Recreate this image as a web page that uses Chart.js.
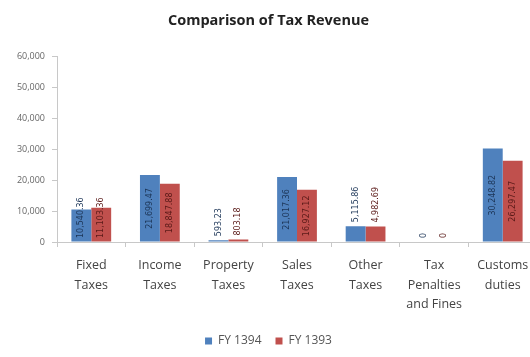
<!DOCTYPE html>
<html>
<head>
<meta charset="utf-8">
<script src="https://cdn.jsdelivr.net/npm/chart.js@4/dist/chart.umd.min.js"></script>
<style>
  html, body { margin: 0; padding: 0; background: #fff; overflow: hidden; }
  #wrap { width: 546px; height: 357px; }
</style>
</head>
<body>
<div id="wrap"><canvas id="tax-chart" width="546" height="357"></canvas></div>
<script>
// chart data
var categories = [
    ['Fixed', 'Taxes'],
    ['Income', 'Taxes'],
    ['Property', 'Taxes'],
    ['Sales', 'Taxes'],
    ['Other', 'Taxes'],
    ['Tax', 'Penalties', 'and Fines'],
    ['Customs', 'duties']
];
var seriesNames = ['FY 1394', 'FY 1393'];
var fy1394 = [10540.36, 21699.47, 593.23, 21017.36, 5115.86, 0, 30248.82];
var fy1393 = [11103.36, 18847.88, 803.18, 16927.12, 4982.69, 0, 26297.47];
var yTicks = [0, 10000, 20000, 30000, 40000, 50000, 60000];

function fmt(v) {
    if (v === 0) return '0';
    return v.toLocaleString('en-US', { minimumFractionDigits: 2, maximumFractionDigits: 2 });
}

// draws the rotated value labels on the bars
var barLabels = {
    id: 'barLabels',
    afterDatasetsDraw: function (chart) {
        var ctx = chart.ctx;
        var base = chart.scales.y.getPixelForValue(0);
        ctx.save();
        ctx.font = '8px "DejaVu Sans"';
        ctx.textBaseline = 'middle';
        chart.data.datasets.forEach(function (ds, i) {
            var meta = chart.getDatasetMeta(i);
            meta.data.forEach(function (bar, j) {
                var txt = fmt(ds.data[j]);
                var w = ctx.measureText(txt).width;
                var h = base - bar.y;
                var cy;
                if (h >= w + 8) {
                    cy = bar.y + h / 2; // centered in bar
                } else if (h >= w / 2) {
                    cy = base - 4 - w / 2; // from the base up
                } else {
                    cy = bar.y - 4 - w / 2; // above the bar
                }
                ctx.fillStyle = ds.labelColor;
                ctx.save();
                ctx.translate(bar.x, cy);
                ctx.rotate(-Math.PI / 2);
                ctx.textAlign = 'center';
                ctx.fillText(txt, 0, 0);
                ctx.restore();
            });
        });
        ctx.restore();
    }
};

var ctx = document.getElementById('tax-chart').getContext('2d');
var taxChart = new Chart(ctx, {
    type: 'bar',
    data: {
        labels: categories,
        datasets: [{
            label: seriesNames[0],
            data: fy1394,
            backgroundColor: '#4F81BD',
            labelColor: '#1c3557'
        }, {
            label: seriesNames[1],
            data: fy1393,
            backgroundColor: '#C0504D',
            labelColor: '#5a1a18'
        }]
    },
    options: {
        responsive: false,
        animation: false,
        devicePixelRatio: 1,
        categoryPercentage: 0.58,
        barPercentage: 1,
        layout: { padding: { right: 9, bottom: 0 } },
        plugins: {
            title: {
                display: true,
                text: 'Comparison of Tax Revenue',
                color: '#222',
                font: { family: '"Open Sans"', size: 14.5, weight: 'bold' },
                padding: { top: 12, bottom: 27 }
            },
            legend: {
                position: 'bottom',
                labels: {
                    color: '#555',
                    font: { family: '"Open Sans"', size: 12 },
                    boxWidth: 7,
                    boxHeight: 7,
                    padding: 14
                }
            },
            tooltip: { enabled: false }
        },
        scales: {
            x: {
                grid: { display: true, drawOnChartArea: false, drawTicks: true, tickLength: 5, color: '#c8c8c8' },
                border: { color: '#c8c8c8' },
                ticks: {
                    color: '#444',
                    font: { family: '"Open Sans"', size: 12.5, lineHeight: 1.55 },
                    padding: 9,
                    maxRotation: 0,
                    autoSkip: false
                },
                afterFit: function (scale) { scale.height = 79; }
            },
            y: {
                min: 0,
                max: 60000,
                afterBuildTicks: function (scale) {
                    scale.ticks = yTicks.map(function (v) { return { value: v }; });
                },
                grid: { display: true, drawOnChartArea: false, drawTicks: true, tickLength: 5, color: '#c8c8c8' },
                border: { color: '#c8c8c8' },
                ticks: {
                    color: '#666',
                    font: { family: '"Open Sans"', size: 9 },
                    padding: 7,
                    callback: function (v) { return v.toLocaleString('en-US'); }
                },
                afterFit: function (scale) { scale.width = 57; }
            }
        }
    },
    plugins: [barLabels]
});
</script>
</body>
</html>
